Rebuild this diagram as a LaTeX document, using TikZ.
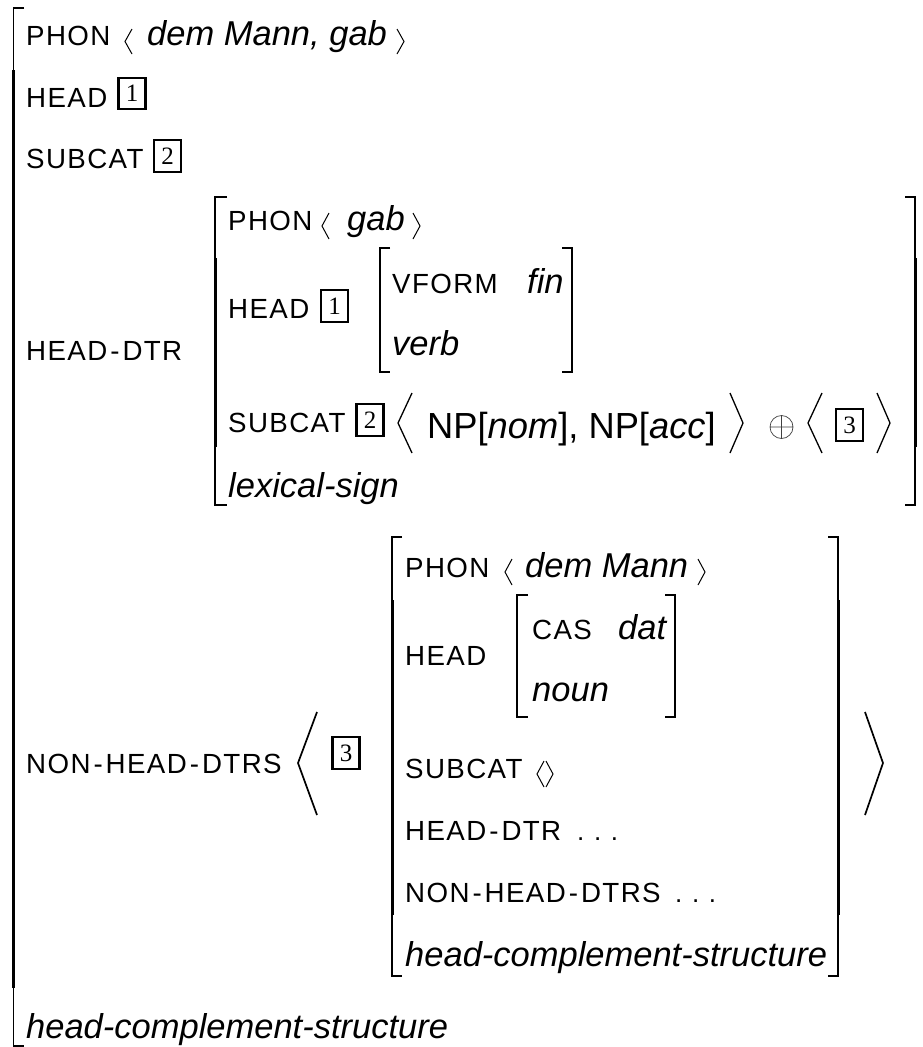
\documentclass[tikz,border=0pt]{standalone}
\usepackage{fontspec}
\setmainfont{Liberation Sans}
\newfontfamily\labf[LetterSpace=5]{Liberation Sans}
\newfontfamily\valf{Liberation Sans}
\newfontfamily\numf{Liberation Serif}
\newcommand\lhy{\kern3pt-\kern3pt}
\begin{document}
\begin{tikzpicture}[x=1pt,y=-1pt,
  lab/.style={anchor=base west,inner sep=0pt,font=\labf\fontsize{27.7}{32}\selectfont},
  dots/.style={anchor=base west,inner sep=0pt,font=\valf\fontsize{26}{30}\selectfont},
  val/.style={anchor=base west,inner sep=0pt,font=\valf\itshape\fontsize{34.5}{40}\selectfont},
  big/.style={anchor=base west,inner sep=0pt,font=\valf\fontsize{36.3}{42}\selectfont},
  tag/.style={draw,line width=2.3pt,inner sep=0pt,minimum width=27pt,minimum height=31.5pt,font=\numf\fontsize{25}{25}\selectfont},
  brthin/.style={line width=1.1pt},
  brthick/.style={line width=3pt},
  ang/.style={line width=1pt},
  bigang/.style={line width=1.3pt},
  hugeang/.style={line width=1.7pt}]
\fill[white] (0,0) rectangle (922,1047);
\useasboundingbox (0,0) rectangle (922,1047);

% ---------- outer matrix ----------
\draw[brthin] (24,8) -- (13.5,8) -- (13.5,72);
\draw[brthick] (13.5,70) -- (13.5,988);
\draw[brthin] (13.5,986) -- (13.5,1046) -- (24,1046);

\node[lab] (p0) at (26,45) {PHON};
\draw[ang] (132,29) -- (125,41.5) -- (132,54);
\node[val] (p0v) at (147,45) {dem Mann, gab};
\draw[ang] (397,29) -- (404,41.5) -- (397,54);
\node[lab] (h0) at (26,107) {HEAD};
\node[tag] (t1a) at (132,93.5) {1};
\node[lab] (s0) at (26,168) {SUBCAT};
\node[tag] (t2a) at (167.5,156) {2};
\node[lab] (hd0) at (26,360) {HEAD\lhy DTR};
\node[lab] (nhd0) at (26,773) {NON\lhy HEAD\lhy DTRS};
\node[val] (type0) at (26,1038) {head-complement-structure};

% ---------- head daughter ----------
\draw[brthin] (227,197) -- (215,197) -- (215,260);
\draw[brthick] (215,258) -- (215,447);
\draw[brthin] (215,445) -- (215,505) -- (227,505);
\draw[brthin] (905,197) -- (915,197) -- (915,260);
\draw[brthick] (915,258) -- (915,447);
\draw[brthin] (915,445) -- (915,505) -- (905,505);

\node[lab] (p1) at (228,230) {PHON};
\draw[ang] (329,213) -- (322,226) -- (329,239);
\node[val] (p1v) at (347,230) {gab};
\draw[ang] (413,213) -- (420,226) -- (413,239);

\node[lab] (h1) at (228,318) {HEAD};
\node[tag] (t1b) at (334.5,306) {1};
\draw[brthin] (390,248) -- (380,248) -- (380,372) -- (390,372);
\draw[brthin] (562,248) -- (572,248) -- (572,372) -- (562,372);
\node[lab] (vf) at (392,293) {VFORM};
\node[val] (fin) at (527,293) {fin};
\node[val] (verb) at (392,355) {verb};

\node[lab] (s1) at (228,432) {SUBCAT};
\node[tag] (t2b) at (370,420) {2};
\draw[bigang] (412,393) -- (398,423) -- (412,453);
\node[big] (np) at (427,438) {NP[\textit{nom}], NP[\textit{acc}]};
\draw[bigang] (730,393) -- (743,423) -- (730,453);
\draw[line width=0.7pt,black!75] (781.5,427) circle[radius=11.5pt]
  (770,427) -- (793,427) (781.5,415.5) -- (781.5,438.5);
\draw[bigang] (822,393) -- (808,423) -- (822,453);
\node[tag] (t3a) at (849.5,425) {3};
\draw[bigang] (877,393) -- (890,423) -- (877,453);

\node[val] (lex) at (228,497) {lexical-sign};

% ---------- non-head daughters ----------
\draw[hugeang] (317,712) -- (298,763) -- (317,815);
\node[tag] (t3b) at (346,753) {3};
\draw[hugeang] (865,712) -- (883,763) -- (865,815);

\draw[brthin] (402,537) -- (392,537) -- (392,602);
\draw[brthick] (392,600) -- (392,915);
\draw[brthin] (392,913) -- (392,976) -- (402,976);
\draw[brthin] (828,537) -- (838,537) -- (838,602);
\draw[brthick] (838,600) -- (838,915);
\draw[brthin] (838,913) -- (838,976) -- (828,976);

\node[lab] (p2) at (405,577) {PHON};
\draw[ang] (512,559) -- (505,572) -- (512,585);
\node[val] (p2v) at (525,577) {dem Mann};
\draw[ang] (698,559) -- (705,572) -- (698,585);

\node[lab] (h2) at (405,665) {HEAD};
\draw[brthin] (528,595) -- (517,595) -- (517,717) -- (528,717);
\draw[brthin] (665,595) -- (675,595) -- (675,717) -- (665,717);
\node[lab] (cas) at (532,639) {CAS};
\node[val] (dat) at (618,639) {dat};
\node[val] (noun) at (532,701) {noun};

\node[lab] (s2) at (405,778.5) {SUBCAT};
\draw[ang] (544,761) -- (537,774) -- (544,787);
\draw[ang] (546,761) -- (553,774) -- (546,787);

\node[lab] (hd2) at (405,840) {HEAD\lhy DTR};
\node[dots] (hd2d) at (577,840) {. . .};
\node[lab] (nhd2) at (405,902) {NON\lhy HEAD\lhy DTRS};
\node[dots] (nhd2d) at (675,902) {. . .};
\node[val] (type2) at (405,966) {head-complement-structure};
\end{tikzpicture}
\end{document}
